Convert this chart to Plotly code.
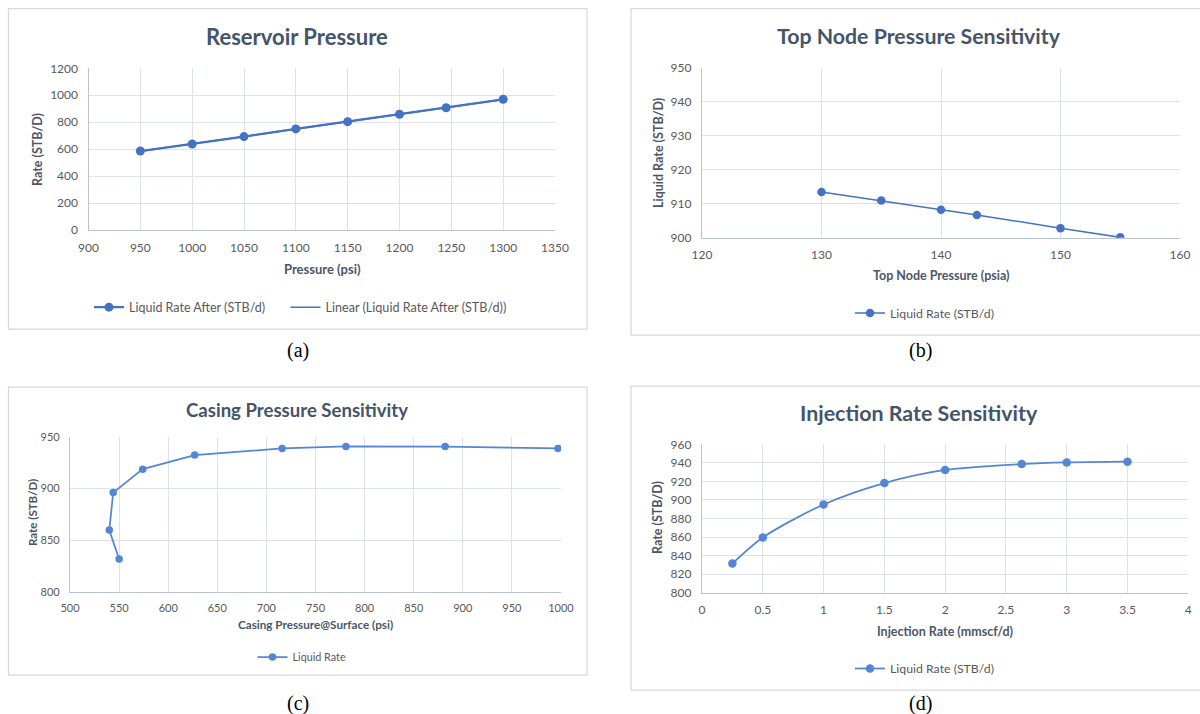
import numpy as np
import plotly.graph_objects as go

W, H = 1200, 714

# ---------------- data ----------------
res_pressure = [950, 1000, 1050, 1100, 1150, 1200, 1245, 1300]
res_rate = [586, 638, 693, 750, 804, 859, 907, 970]

top_node_pressure = [130, 135, 140, 143, 150, 155]
top_node_rate = [913.4, 910.9, 908.2, 906.7, 902.8, 900.1]

casing_pressure = [550, 540, 544, 574, 627, 716, 781, 882, 997]
casing_rate = [831.7, 859.6, 895.9, 918.6, 932.2, 938.7, 940.6, 940.4, 938.7]

injection_rate = [0.25, 0.5, 1.0, 1.5, 2.0, 2.63, 3.0, 3.5]
injection_liquid_rate = [831.4, 859.5, 895.1, 918.2, 932.3, 938.7, 940.5, 941.3]

# linear trendline (least squares, as in the spreadsheet "Linear" trendline)
slope, intercept = np.polyfit(res_pressure, res_rate, 1)
trend_x = [min(res_pressure), max(res_pressure)]
trend_y = [slope * v + intercept for v in trend_x]

# ---------------- style ----------------
BLUE = "#4472C4"
BLUE2 = "#5585D5"
GRID = "#DCE1EA"
AXLINE = "#B9C3D6"
TICKC = "#595959"
TITLEC = "#44546A"
AXTC = "#4B5668"
BORDER = "#D9D9D9"
FONT = "Lato"
SERIF = "Liberation Serif"


def px(x):
    return x / W


def py(y):
    return 1 - y / H


fig = go.Figure()

# (a)
fig.add_trace(go.Scatter(x=res_pressure, y=res_rate, mode="lines+markers",
                         name="Liquid Rate After (STB/d)",
                         line=dict(color=BLUE, width=2.25),
                         marker=dict(color=BLUE, size=9),
                         xaxis="x", yaxis="y", legend="legend"))
fig.add_trace(go.Scatter(x=trend_x, y=trend_y, mode="lines",
                         name="Linear (Liquid Rate After (STB/d))",
                         line=dict(color=BLUE, width=1.5),
                         xaxis="x", yaxis="y", legend="legend5"))
# (b)
fig.add_trace(go.Scatter(x=top_node_pressure, y=top_node_rate, mode="lines+markers",
                         name="Liquid Rate (STB/d)",
                         line=dict(color=BLUE, width=1.5),
                         marker=dict(color=BLUE, size=8.5),
                         xaxis="x2", yaxis="y2", legend="legend2"))
# (c)
fig.add_trace(go.Scatter(x=casing_pressure, y=casing_rate, mode="lines+markers",
                         name="Liquid Rate",
                         line=dict(color=BLUE2, width=1.75),
                         marker=dict(color=BLUE2, size=7.5),
                         xaxis="x3", yaxis="y3", legend="legend3"))
# (d)
fig.add_trace(go.Scatter(x=injection_rate, y=injection_liquid_rate, mode="lines+markers",
                         name="Liquid Rate (STB/d)",
                         line=dict(color=BLUE2, width=1.75, shape="spline", smoothing=0.8),
                         marker=dict(color=BLUE2, size=8.5),
                         xaxis="x4", yaxis="y4", legend="legend4"))


def xax(domain, rng, dtick, anchor, fs=12):
    return dict(domain=domain, range=rng, dtick=dtick, anchor=anchor,
                showgrid=True, gridcolor=GRID, gridwidth=1,
                showline=True, linecolor=AXLINE, linewidth=1.25,
                zeroline=False, ticks="outside", ticklen=6,
                tickcolor="rgba(0,0,0,0)", automargin=False,
                tickfont=dict(family=FONT, size=fs, color=TICKC),
                fixedrange=True)


def yax(domain, rng, dtick, anchor, fs=12):
    d = xax(domain, rng, dtick, anchor, fs)
    d["ticklen"] = 7
    return d


layout = dict(
    width=W, height=H, margin=dict(l=0, r=0, t=0, b=0, pad=0, autoexpand=False),
    paper_bgcolor="white", plot_bgcolor="white",
    font=dict(family=FONT, color=TICKC),
    xaxis=xax([px(88.5), px(555)], [900, 1350], 50, "y"),
    yaxis=yax([py(230), py(68.3)], [0, 1200], 200, "x"),
    xaxis2=xax([px(702), px(1180)], [120, 160], 10, "y2"),
    yaxis2=yax([py(237.7), py(67.5)], [900, 950], 10, "x2"),
    xaxis3=xax([px(70), px(561)], [500, 1000], 50, "y3", fs=11),
    yaxis3=yax([py(591.7), py(436.7)], [800, 950], 50, "x3", fs=11),
    xaxis4=xax([px(702), px(1188.3)], [0, 4], 0.5, "y4"),
    yaxis4=yax([py(592.7), py(444.3)], [800, 960], 20, "x4"),
)


def leg(x, y, size=12.3):
    return dict(orientation="h", x=px(x), y=py(y), xanchor="left", yanchor="middle",
                font=dict(family=FONT, size=size, color=TICKC),
                bgcolor="rgba(0,0,0,0)", borderwidth=0)


layout["legend"] = leg(89, 307.5, 12.5)
layout["legend5"] = leg(285.5, 307.5, 12.6)
layout["legend2"] = leg(850, 313)
layout["legend3"] = leg(252.5, 657, 10.8)
layout["legend4"] = leg(850, 668.5)

fig.update_layout(**layout)
fig.update_layout(showlegend=True)

# panel borders
shapes = []
for (x0, y0, x1, y1) in [(8.5, 8.5, 587, 329), (631, 8.5, 1215, 335),
                         (8.5, 387, 587, 675), (631, 386, 1215, 690)]:
    shapes.append(dict(type="rect", xref="paper", yref="paper",
                       x0=px(x0), x1=px(x1), y0=py(y1), y1=py(y0),
                       line=dict(color=BORDER, width=1.25), fillcolor="rgba(0,0,0,0)",
                       layer="below"))
fig.update_layout(shapes=shapes)

ann = []


def text(x, y, s, size, color, bold=False, family=FONT, angle=0):
    ann.append(dict(x=px(x), y=py(y), xref="paper", yref="paper",
                    text=f"<b>{s}</b>" if bold else s, showarrow=False,
                    xanchor="center", yanchor="middle", textangle=angle,
                    font=dict(family=family, size=size, color=color)))


# chart titles
text(297, 36, "Reservoir Pressure", 22, TITLEC, bold=True)
text(919, 36, "Top Node Pressure Sensitivity", 21.3, TITLEC, bold=True)
text(297, 410, "Casing Pressure Sensitivity", 18.6, TITLEC, bold=True)
text(919, 413, "Injection Rate Sensitivity", 21.4, TITLEC, bold=True)

# axis titles
text(322, 269, "Pressure (psi)", 13, AXTC, bold=True)
text(37, 150, "Rate (STB/D)", 12.5, AXTC, bold=True, angle=-90)
text(941, 276, "Top Node Pressure (psia)", 12.5, AXTC, bold=True)
text(658, 153, "Liquid Rate (STB/D)", 12.5, AXTC, bold=True, angle=-90)
text(316, 624, "Casing Pressure@Surface (psi)", 11.7, AXTC, bold=True)
text(32, 513, "Rate (STB/D)", 11.5, AXTC, bold=True, angle=-90)
text(945, 631, "Injection Rate (mmscf/d)", 12.5, AXTC, bold=True)
text(657, 518, "Rate (STB/D)", 12.5, AXTC, bold=True, angle=-90)

# captions
text(298, 350, "(a)", 20, "#000000", family=SERIF)
text(920, 350, "(b)", 20, "#000000", family=SERIF)
text(298, 703, "(c)", 20, "#000000", family=SERIF)
text(920, 703, "(d)", 20, "#000000", family=SERIF)

fig.update_layout(annotations=ann)

fig.write_html("out.html")
